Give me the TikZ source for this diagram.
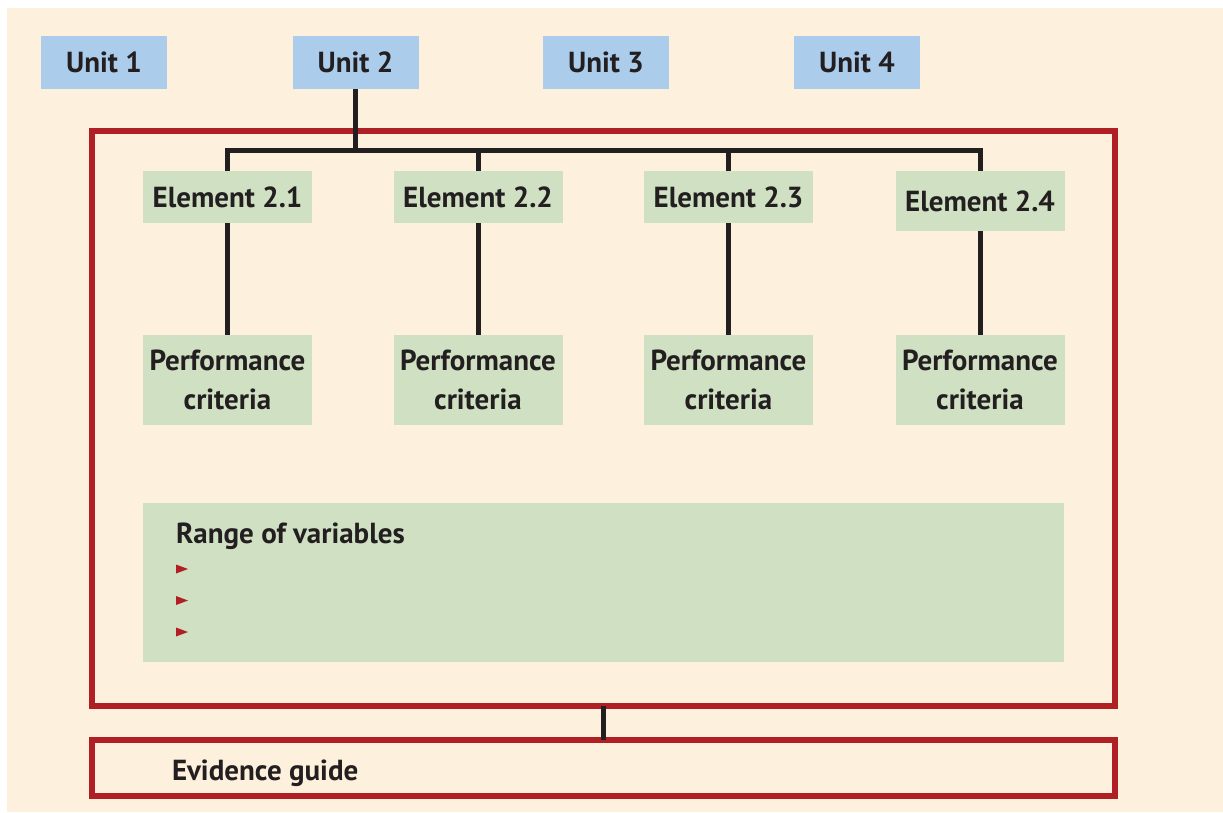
\documentclass[tikz,border=0pt]{standalone}
\usepackage{fontspec}
\setmainfont{PT Sans}
\definecolor{bg}{HTML}{FDF0DC}
\definecolor{unitblue}{HTML}{ABCDEB}
\definecolor{elgreen}{HTML}{D0E0C3}
\definecolor{boxred}{HTML}{B01F24}
\definecolor{ink}{HTML}{231F20}
\begin{document}
\begin{tikzpicture}[x=1pt,y=-1pt,
  every node/.style={font=\fontsize{29}{39}\selectfont\bfseries, text=ink, inner sep=0pt, outer sep=0pt},
  unitbox/.style={fill=unitblue, minimum width=126, minimum height=53},
  elbox/.style={fill=elgreen, minimum width=169, minimum height=52},
  perfbox/.style={fill=elgreen, minimum width=169, minimum height=90, align=center},
  redbox/.style={draw=boxred, line width=6pt},
  tree/.style={draw=ink, line width=5pt, line join=miter},
  bullet/.style={fill=boxred}]
\useasboundingbox (0,0) rectangle (1223,812);
\fill[white] (0,0) rectangle (1223,812);
\fill[bg] (7,8) rectangle (1223,812);
% units
\node[unitbox] (u1) at (104,62.5) {Unit 1};
\node[unitbox] (u2) at (355.5,62.5) {Unit 2};
\node[unitbox] (u3) at (606,62.5) {Unit 3};
\node[unitbox] (u4) at (857,62.5) {Unit 4};
% outer red box
\node[redbox, minimum width=1023, minimum height=575] (outer) at (603.5,418.5) {};
% elements
\node[elbox] (e1) at (227.5,197) {Element 2.1};
\node[elbox] (e2) at (478,197) {Element 2.2};
\node[elbox] (e3) at (728.5,197) {Element 2.3};
\node[elbox, minimum height=60] (e4) at (980,201) {Element 2.4};
% performance criteria
\node[perfbox] (p1) at (227.5,380) {Performance\\criteria};
\node[perfbox] (p2) at (478,380) {Performance\\criteria};
\node[perfbox] (p3) at (728.5,380) {Performance\\criteria};
\node[perfbox] (p4) at (980,380) {Performance\\criteria};
% range of variables
\node[fill=elgreen, minimum width=921, minimum height=159] (range) at (603.5,582.5) {};
\node[anchor=base west] (rtitle) at (176,543) {Range of variables};
\fill[bullet] (176,564.5) -- (188,569) -- (176,573.5) -- cycle;
\fill[bullet] (176,596) -- (188,600.5) -- (176,605) -- cycle;
\fill[bullet] (176,627.5) -- (188,632) -- (176,636.5) -- cycle;
% evidence guide
\node[redbox, minimum width=1023, minimum height=56.5] (evid) at (603.5,767.75) {};
\node[anchor=base west] (etitle) at (172,780) {Evidence guide};
% tree connectors
\coordinate (bar) at (355.5,150);
\draw[tree] (e1.north) -- (e1.north |- bar) -- (e4.north |- bar) -- (e4.north);
\draw[tree] (u2.south) -- (u2.south |- bar);
\draw[tree] (e2.north) -- (e2.north |- bar);
\draw[tree] (e3.north) -- (e3.north |- bar);
\draw[tree] (e1.south) -- (p1.north);
\draw[tree] (e2.south) -- (p2.north);
\draw[tree] (e3.south) -- (p3.north);
\draw[tree] (e4.south) -- (p4.north);
\draw[tree] (outer.south) -- (evid.north);
\end{tikzpicture}
\end{document}
